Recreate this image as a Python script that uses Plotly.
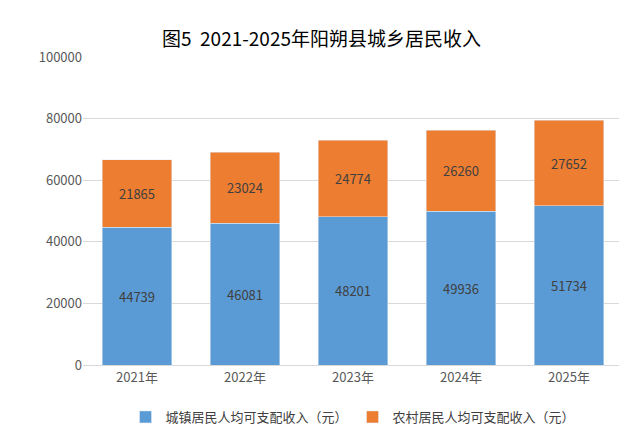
import plotly.graph_objects as go

years = ["2021年", "2022年", "2023年", "2024年", "2025年"]
urban = [44739, 46081, 48201, 49936, 51734]
rural = [21865, 23024, 24774, 26260, 27652]

font = "Noto Sans CJK SC"

fig = go.Figure()
fig.add_trace(go.Bar(x=years, y=urban, name="城镇居民人均可支配收入（元）",
                     marker_color="#5B9BD5", text=urban, textposition="inside",
                     insidetextanchor="middle", textfont=dict(color="#404040", size=13)))
fig.add_trace(go.Bar(x=years, y=rural, name="农村居民人均可支配收入（元）",
                     marker_color="#ED7D31", text=rural, textposition="inside",
                     insidetextanchor="middle", textfont=dict(color="#404040", size=13)))

fig.update_layout(
    barmode="stack", bargap=0.36,
    width=627, height=443,
    paper_bgcolor="white", plot_bgcolor="white",
    font=dict(family=font, color="#595959", size=13),
    title=dict(text="图5  2021-2025年阳朔县城乡居民收入", x=0.5, y=0.93,
               xanchor="center", yanchor="middle",
               font=dict(size=19, color="#000000", family=font)),
    margin=dict(l=75, r=12, t=49, b=86),
    legend=dict(orientation="h", x=0.5, xanchor="center", y=-0.12, yanchor="top",
                traceorder="normal", font=dict(size=13, color="#404040")),
    uniformtext=dict(minsize=10, mode="show"),
)
fig.update_yaxes(range=[0, 100000], dtick=20000, showgrid=True, gridcolor="#D9D9D9",
                 zeroline=False, tickformat="d", ticks="", showline=False)
fig.update_xaxes(showline=True, linecolor="#D9D9D9", ticks="")

fig.write_html("out.html")
